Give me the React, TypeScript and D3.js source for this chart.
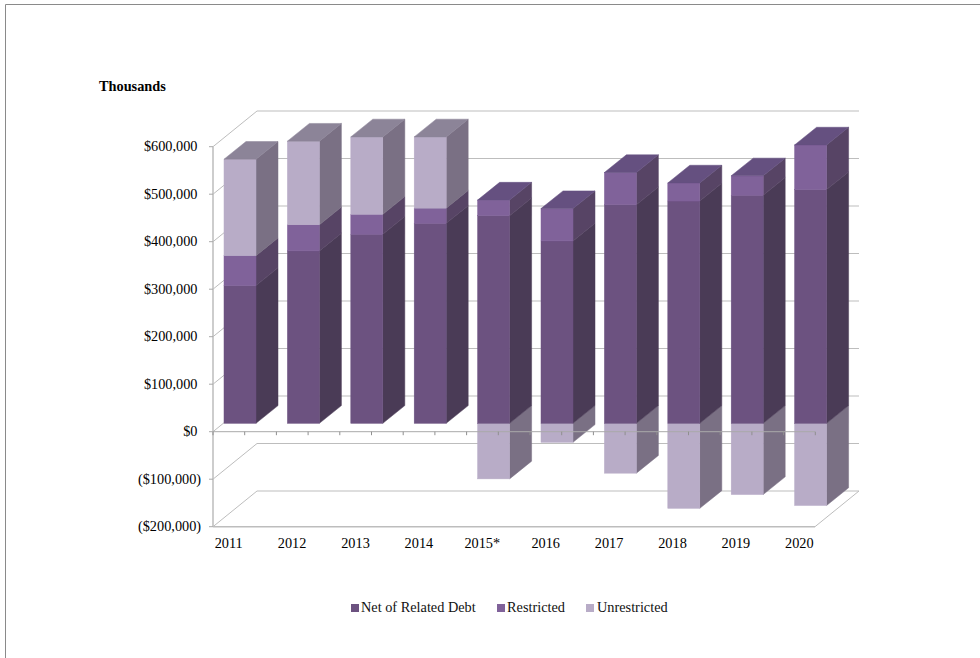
import React from "react";
import * as d3 from "d3";

const years = ["2011", "2012", "2013", "2014", "2015*", "2016", "2017", "2018", "2019", "2020"];
const netOfRelatedDebt = [290000, 363000, 398000, 421000, 437000, 384000, 460000, 468000, 480000, 492000];
const restricted = [63000, 55000, 42000, 32000, 33000, 68000, 68000, 38000, 41000, 94000];
const unrestricted = [203000, 176000, 163000, 150000, -117000, -40000, -105000, -179000, -150000, -173000];
const yTicks = [-200000, -100000, 0, 100000, 200000, 300000, 400000, 500000, 600000];
const legendItems = ["Net of Related Debt", "Restricted", "Unrestricted"];

// front, side and top shades for each series
const shades = [
  { front: "#6c5280", side: "#4a3b56", top: "#5f4a70" },
  { front: "#80629a", side: "#574465", top: "#655080" },
  { front: "#b8acc7", side: "#7a7084", top: "#8c8498" },
];

const W = 980;
const H = 658;
const SERIF = "'Liberation Serif', 'Times New Roman', serif";
const GRID = "#bdbdbd";
const FONT_SIZE = 14.3;

// oblique projection of the chart box
const wallDx = 44;
const wallDy = -35.7;
const barLiftX = 11;
const barLiftY = -8.4;
const barWidth = 32;
const barDepthX = 22;
const barDepthY = -17.7;

const y = d3.scaleLinear().domain([-200000, 600000]).range([526.7, 146.7]);
const x = d3.scaleBand<string>().domain(years).range([213, 213 + 63.4 * 10]).paddingInner(0).paddingOuter(0);

const money = (v: number) => {
  const s = d3.format(",")(Math.abs(v));
  return v < 0 ? `($${s})` : `$${s}`;
};

type Seg = { year: string; lo: number; hi: number; series: number; capped: boolean };

function buildSegments(): Seg[] {
  const segs: Seg[] = [];
  years.forEach((year, i) => {
    const u = unrestricted[i];
    if (u < 0) segs.push({ year, lo: u, hi: 0, series: 2, capped: false });
    const n = netOfRelatedDebt[i];
    const r = restricted[i];
    segs.push({ year, lo: 0, hi: n, series: 0, capped: false });
    segs.push({ year, lo: n, hi: n + r, series: 1, capped: u < 0 });
    if (u > 0) segs.push({ year, lo: n + r, hi: n + r + u, series: 2, capped: true });
  });
  return segs;
}

const poly = (pts: [number, number][]) => pts.map((p) => p.join(",")).join(" ");

function Block({ seg }: { seg: Seg }) {
  const x0 = (x(seg.year) as number) + barLiftX;
  const x1 = x0 + barWidth;
  const yHi = y(seg.hi) + barLiftY;
  const yLo = y(seg.lo) + barLiftY;
  const c = shades[seg.series];
  return (
    <g strokeWidth={0.5}>
      <polygon
        points={poly([
          [x1, yHi],
          [x1 + barDepthX, yHi + barDepthY],
          [x1 + barDepthX, yLo + barDepthY],
          [x1, yLo],
        ])}
        fill={c.side}
        stroke={c.side}
      />
      <rect x={x0} y={yHi} width={barWidth} height={yLo - yHi} fill={c.front} stroke={c.front} />
      {seg.capped && (
        <polygon
          points={poly([
            [x0, yHi],
            [x0 + barDepthX, yHi + barDepthY],
            [x1 + barDepthX, yHi + barDepthY],
            [x1, yHi],
          ])}
          fill={c.top}
          stroke={c.top}
        />
      )}
    </g>
  );
}

export default function App() {
  const left = x.range()[0];
  const right = 815;
  const zero = y(0);
  const floor = y(-200000);
  const step = x.step();
  const halfTicks = d3.range(0, 20).map((k) => left + (k * step) / 2);
  const swatchX = [351, 497, 586];
  const textX = [361, 507, 597];

  return (
    <svg
      width={W}
      height={H}
      viewBox={`0 0 ${W} ${H}`}
      style={{ position: "absolute", left: 0, top: 0, background: "#fff" }}
      fontFamily={SERIF}
    >
      <path d={`M5.5,${H} V4.5 H${W}`} fill="none" stroke="#8a8a8a" strokeWidth={1} />

      <text x={99} y={91} fontSize={FONT_SIZE} fontWeight="bold" fill="#000">
        Thousands
      </text>

      {/* back wall gridlines and left wall diagonals */}
      {yTicks.map((t) => (
        <g key={t} stroke={GRID} fill="none">
          <line x1={left + wallDx} x2={right + wallDx} y1={y(t) + wallDy} y2={y(t) + wallDy} strokeWidth={1.2} />
          <line x1={left} x2={left + wallDx} y1={y(t)} y2={y(t) + wallDy} strokeWidth={1} />
        </g>
      ))}
      <line x1={right} x2={right + wallDx} y1={floor} y2={floor + wallDy} stroke={GRID} strokeWidth={1} />

      {/* bars */}
      {buildSegments().map((s, i) => (
        <Block key={i} seg={s} />
      ))}

      {/* front axes */}
      <line x1={left} x2={left} y1={y(600000)} y2={floor} stroke={GRID} strokeWidth={1.5} />
      <line x1={left} x2={right} y1={floor} y2={floor} stroke={GRID} strokeWidth={1.5} />
      <line x1={left} x2={right} y1={zero} y2={zero} stroke="#a9a9a9" strokeWidth={1} />
      {halfTicks.map((tx) => (
        <line key={tx} x1={tx} x2={tx} y1={zero} y2={zero + 3.5} stroke="#8f8f8f" strokeWidth={1} />
      ))}
      {yTicks.map((t) => (
        <g key={t}>
          <line x1={left - 4} x2={left} y1={y(t)} y2={y(t)} stroke="#a9a9a9" strokeWidth={1} />
          {/* closing parenthesis of negatives hangs past the digit column */}
          <text x={left - 15.5 + (t < 0 ? 3.6 : 0)} y={y(t) + 4.5} textAnchor="end" fontSize={FONT_SIZE} fill="#000">
            {money(t)}
          </text>
        </g>
      ))}
      {years.map((yr) => (
        <text key={yr} x={(x(yr) as number) + 15.7} y={548} textAnchor="middle" fontSize={FONT_SIZE} fill="#000">
          {yr}
        </text>
      ))}

      {/* legend */}
      {legendItems.map((label, i) => (
        <g key={label}>
          <rect x={swatchX[i]} y={604} width={8} height={8} fill={shades[i].front} />
          <text x={textX[i]} y={612} fontSize={FONT_SIZE} fill="#111">
            {label}
          </text>
        </g>
      ))}
    </svg>
  );
}
